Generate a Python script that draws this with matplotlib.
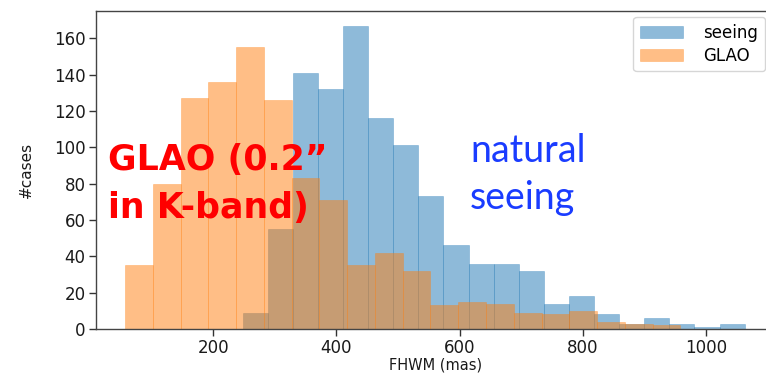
import matplotlib.pyplot as plt
import numpy as np

# FWHM histograms (counts per bin), 20 bins each
seeing_range = (248, 1062)
seeing_counts = [9, 55, 141, 132, 167, 116, 101, 73, 46, 36,
                 36, 32, 14, 18, 8, 3, 6, 3, 1, 3]

glao_range = (57, 958)
glao_counts = [35, 80, 127, 136, 155, 126, 83, 71, 35, 42,
               32, 13, 15, 14, 9, 8, 10, 4, 3, 2]

xticks = [200, 400, 600, 800, 1000]
yticks = [0, 20, 40, 60, 80, 100, 120, 140, 160]

seeing_edges = np.linspace(seeing_range[0], seeing_range[1], len(seeing_counts) + 1)
glao_edges = np.linspace(glao_range[0], glao_range[1], len(glao_counts) + 1)

fig = plt.figure(figsize=(7.66, 3.73), dpi=100)
ax = fig.add_axes([0.1253, 0.118, 0.887, 0.8525])

ax.hist(seeing_edges[:-1], bins=seeing_edges, weights=seeing_counts,
        alpha=0.5, color='tab:blue', edgecolor='tab:blue', linewidth=0.4,
        label='seeing')
ax.hist(glao_edges[:-1], bins=glao_edges, weights=glao_counts,
        alpha=0.5, color='tab:orange', edgecolor='tab:orange', linewidth=0.4,
        label='GLAO')

ax.set_xlim(10, 1112)
ax.set_ylim(0, 175)
ax.set_xticks(xticks)
ax.set_yticks(yticks)
ax.tick_params(labelsize=12, length=5, width=1, colors='#333333',
               labelcolor='#1a1a1a', pad=2.5)
for s in ax.spines.values():
    s.set_color('#444444')
    s.set_linewidth(1)

ax.set_xlabel('FHWM (mas)', fontsize=10.5, color='#1a1a1a', labelpad=0)
ax.set_ylabel('#cases', fontsize=11, color='#1a1a1a', labelpad=14)

leg = ax.legend(loc='upper right', fontsize=12, handlelength=2.6,
                handletextpad=1.2, borderpad=0.4, labelspacing=0.3,
                borderaxespad=0, bbox_to_anchor=(765 / 766, 1 - 17 / 373),
                bbox_transform=fig.transFigure,
                fancybox=True, framealpha=0.8)
leg.get_frame().set_edgecolor('#cccccc')

# annotations
red_font = ['DejaVu Sans']
fig.text(108 / 766, 1 - 170 / 373, 'GLAO (0.2\u201d', color='#ff0000',
         fontsize=25, family=red_font, fontweight='bold',
         va='baseline', ha='left')
fig.text(108 / 766, 1 - 218 / 373, 'in K-band)', color='#ff0000',
         fontsize=25, family=red_font, fontweight='bold',
         va='baseline', ha='left')
fig.text(470 / 766, 1 - 162 / 373, 'natural', color='#1a3cff',
         fontsize=27, family=['Lato', 'DejaVu Sans'],
         va='baseline', ha='left')
fig.text(470 / 766, 1 - 209 / 373, 'seeing', color='#1a3cff',
         fontsize=27, family=['Lato', 'DejaVu Sans'],
         va='baseline', ha='left')

fig.savefig('out.png', dpi=100)
